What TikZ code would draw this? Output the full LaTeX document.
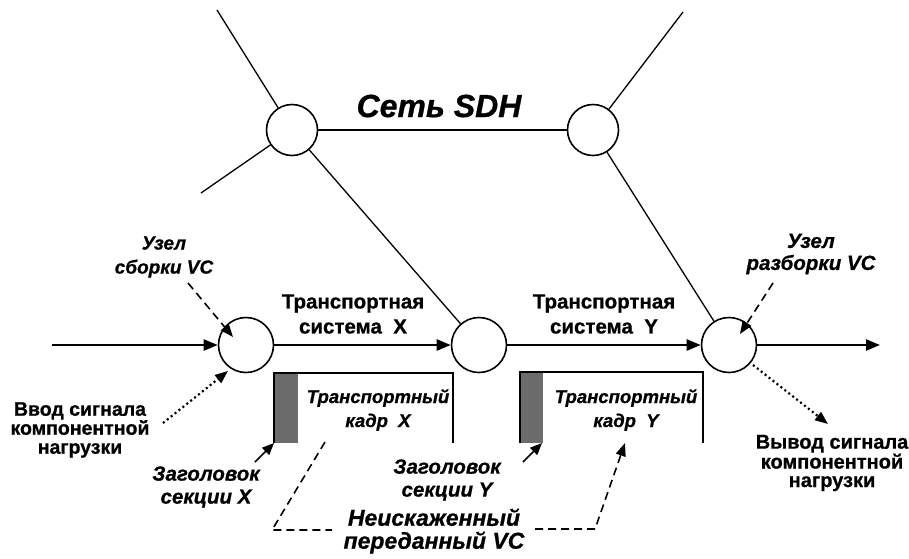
\documentclass[tikz,border=0pt]{standalone}
\usepackage{fontspec}
\setmainfont{Liberation Sans}[BoldFeatures={FakeBold=0.8},BoldItalicFeatures={FakeBold=0.8}]
\usetikzlibrary{arrows.meta}
\begin{document}
\begin{tikzpicture}[x=1pt,y=-1pt,
  nodecirc/.style={circle,draw,line width=1.6pt,fill=white,inner sep=0pt},
  bignode/.style={nodecirc,minimum size=55pt},
  smallnode/.style={nodecirc,minimum size=51pt},
  net/.style={line width=1.3pt},
  flow/.style={line width=2.4pt,-{Triangle[length=14pt,width=11pt]}},
  lbl/.style={inner sep=0pt,align=center,font=\fontsize{20.5}{25}\selectfont\bfseries},
  side/.style={inner sep=0pt,align=center,font=\fontsize{19.5}{19}\selectfont\bfseries},
  ilbl/.style={inner sep=0pt,align=center,font=\fontsize{19}{24}\selectfont\bfseries\itshape},
  dasharr/.style={line width=1.6pt,dash pattern=on 8pt off 5pt,-{Triangle[length=13pt,width=10pt]}},
  dotarr/.style={line width=2.2pt,dash pattern=on 2pt off 3pt,-{Triangle[length=13pt,width=10pt]}},
  ptr/.style={line width=1.6pt,-{Triangle[length=12pt,width=10pt]}},
  frame/.style={line width=1.8pt},
  hdr/.style={fill=gray!85!black,draw=none}
]
\useasboundingbox (0,0) rectangle (909,558);
% network nodes
\node[smallnode] (D) at (292,130) {};
\node[smallnode] (E) at (593,130) {};
\node[bignode] (A) at (246,345) {};
\node[bignode] (B) at (479,345) {};
\node[bignode] (C) at (729,345) {};
\coordinate (d1) at (217,10);
\coordinate (d2) at (201,193);
\coordinate (e1) at (683,12);
\coordinate (in) at (52,345);
\coordinate (out) at (880,345);
\draw[net] (D) -- (d1);
\draw[net] (D) -- (d2);
\draw[net] (D) -- (E);
\draw[net] (D) -- (B);
\draw[net] (E) -- (e1);
\draw[net] (E) -- (C);
\draw[flow] (in) -- (A);
\draw[flow] (A) -- (B);
\draw[flow] (B) -- (C);
\draw[flow] (C) -- (out);
\node[font=\fontsize{32}{34}\selectfont\bfseries\itshape,inner sep=0pt] (sdh) at (439,106) {Сеть SDH};
% labels
\node[lbl] (tsx) at (353,314) {Транспортная\\система~~X};
\node[lbl] (tsy) at (604,314) {Транспортная\\система~~Y};
\node[ilbl,font=\fontsize{19}{24}\selectfont\bfseries\itshape] (uzA) at (164,257) {Узел\\сборки VC};
\node[ilbl,font=\fontsize{20.5}{22}\selectfont\bfseries\itshape] (uzC) at (811,254) {Узел\\разборки VC};
\node[side] (vvod) at (80,430) {Ввод сигнала\\компонентной\\нагрузки};
\node[side,font=\fontsize{20}{18.5}\selectfont\bfseries] (vyvod) at (832,463) {Вывод сигнала\\компонентной\\нагрузки};
% frames
\fill[hdr] (274,373) rectangle (298,443);
\draw[frame] (274,443) -- (274,373) -- (453,373) -- (453,443);
\fill[hdr] (520,372) rectangle (543,443);
\draw[frame] (520,443) -- (520,372) -- (703,372) -- (703,443);
\node[ilbl,font=\fontsize{18.5}{24}\selectfont\bfseries\itshape] (kx) at (378,410) {Транспортный\\кадр~~X};
\node[ilbl,font=\fontsize{18.5}{24}\selectfont\bfseries\itshape] (ky) at (626,410) {Транспортный\\кадр~~Y};
\node[ilbl,font=\fontsize{20.5}{23}\selectfont\bfseries\itshape] (zx) at (206,487) {Заголовок\\секции X};
\node[ilbl,font=\fontsize{20.5}{23}\selectfont\bfseries\itshape] (zy) at (447,480) {Заголовок\\секции Y};
\node[inner sep=0pt,align=center,font=\fontsize{23}{23}\selectfont\bfseries\itshape] (vc) at (434,531) {Неискаженный\\переданный VC};
% pointer arrows
\coordinate (uA1) at (188,283); \coordinate (uA2) at (233,337);
\coordinate (uC1) at (773,283); \coordinate (uC2) at (740,334);
\coordinate (vi1) at (163,423); \coordinate (vi2) at (228,371);
\coordinate (vo1) at (753,365); \coordinate (vo2) at (828,424);
\coordinate (zx1) at (255,462); \coordinate (zx2) at (274,443);
\coordinate (zy1) at (523,462); \coordinate (zy2) at (542,443);
\draw[dasharr] (uA1) -- (uA2);
\draw[dasharr] (uC1) -- (uC2);
\draw[dotarr] (vi1) -- (vi2);
\draw[dotarr] (vo1) -- (vo2);
\draw[ptr] (zx1) -- (zx2);
\draw[ptr] (zy1) -- (zy2);
\coordinate (l1) at (325,442); \coordinate (l2) at (272,530); \coordinate (l3) at (332,530);
\coordinate (r1) at (535,529); \coordinate (r2) at (595,529); \coordinate (r3) at (625,443);
\draw[line width=1.6pt,dash pattern=on 8pt off 5pt] (l1) -- (l2) -- (l3);
\draw[dasharr] (r1) -- (r2) -- (r3);
\end{tikzpicture}
\end{document}
